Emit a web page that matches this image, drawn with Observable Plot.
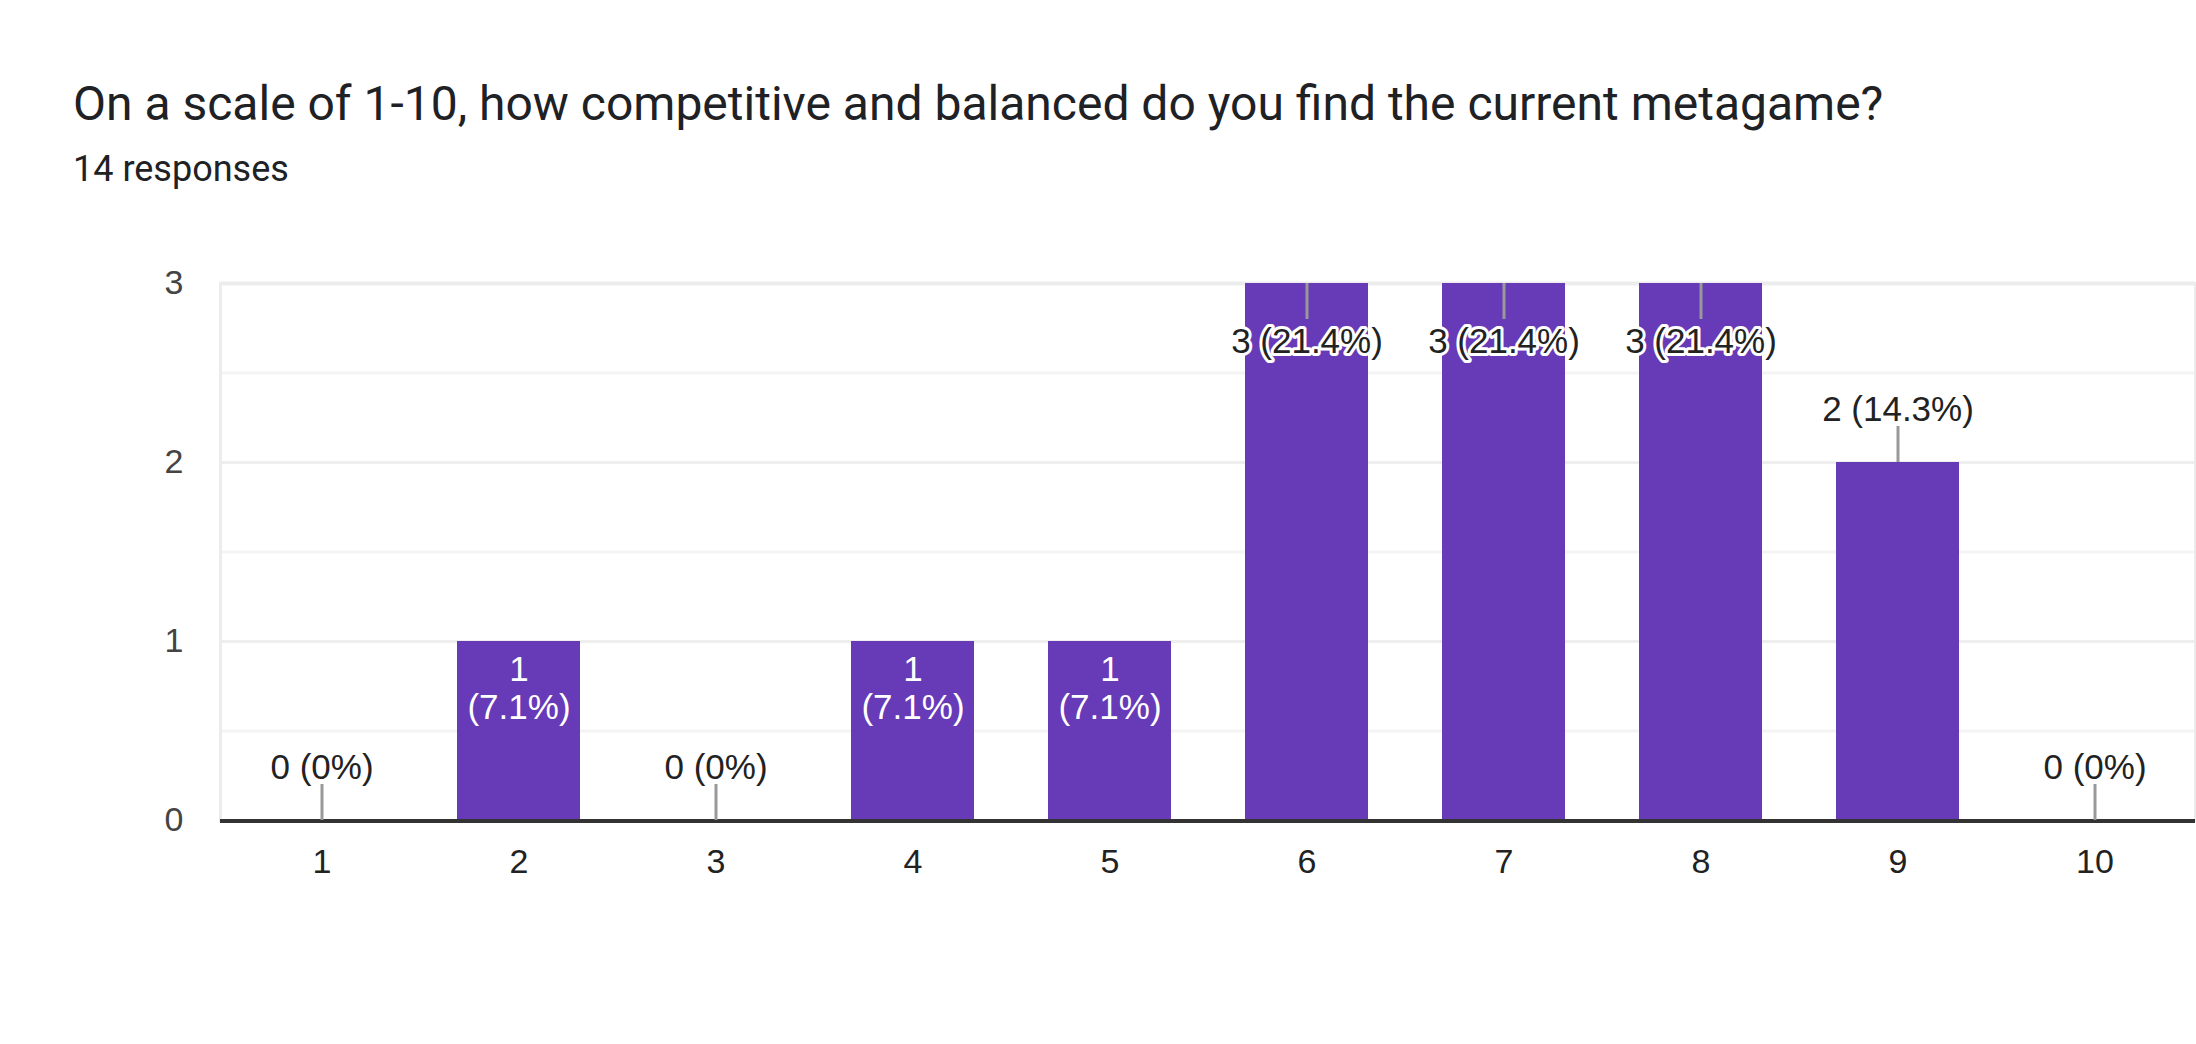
<!DOCTYPE html>
<html>
<head>
<meta charset="utf-8">
<script src="https://cdn.jsdelivr.net/npm/d3@7"></script>
<script src="https://cdn.jsdelivr.net/npm/@observablehq/plot@0.6"></script>
<style>
  html, body { margin: 0; padding: 0; background: #fff; }
  #header { position: relative; height: 220px; width: 2196px; }
  #title { position: absolute; left: 73px; top: 80px; font-family: Roboto, sans-serif; font-size: 48px; line-height: 1; color: #202124; white-space: nowrap; }
  #subtitle { position: absolute; left: 73px; top: 151px; font-family: Roboto, sans-serif; font-size: 36px; line-height: 1; color: #202124; white-space: nowrap; }
  #chart svg { display: block; }
</style>
</head>
<body>
<div id="header">
  <div id="title">On a scale of 1-10, how competitive and balanced do you find the current metagame?</div>
  <div id="subtitle">14 responses</div>
</div>
<div id="chart"></div>
<script>
const ratings = ["1", "2", "3", "4", "5", "6", "7", "8", "9", "10"];
const counts = [0, 1, 0, 1, 1, 3, 3, 3, 2, 0];
const percents = ["0%", "7.1%", "0%", "7.1%", "7.1%", "21.4%", "21.4%", "21.4%", "14.3%", "0%"];
const yTicks = [0, 1, 2, 3];
const minorGrid = [0.5, 1.5, 2.5];
const majorGrid = [1, 2];

const data = ratings.map((r, i) => ({rating: r, count: counts[i], pct: percents[i]}));
const maxCount = d3.max(counts);

const W = 2196, H = 824, mT = 63, mB = 224, mL = 220, mR = 1;
const pxPerUnit = (H - mT - mB) / maxCount;
const leader = 36 / pxPerUnit;

const inside = data.filter(d => d.count === 1);
const clamped = data.filter(d => d.count === maxCount);
const above = data.filter(d => d.count !== 1 && d.count !== maxCount);

const font = "'Liberation Sans', Arial, Helvetica, sans-serif";

const chart = Plot.plot({
  width: W,
  height: H,
  marginTop: mT,
  marginBottom: mB,
  marginLeft: mL,
  marginRight: mR,
  style: {fontFamily: font, background: "#fff", overflow: "visible"},
  x: {domain: ratings, paddingInner: 0.377, paddingOuter: 0.1885, label: null},
  y: {domain: [0, maxCount], label: null},
  marks: [
    Plot.ruleY(minorGrid, {stroke: "#f4f4f4", strokeWidth: 3}),
    Plot.ruleY(majorGrid, {stroke: "#eeeeee", strokeWidth: 3}),
    Plot.frame({stroke: "#ececec", strokeWidth: 3}),
    Plot.ruleY([maxCount], {stroke: "#ececec", strokeWidth: 4}),
    Plot.barY(data, {x: "rating", y: "count", fill: "#673ab7"}),
    Plot.ruleY([0], {stroke: "#333333", strokeWidth: 4, dy: 0.5}),
    Plot.ruleX(above, {x: "rating", y1: "count", y2: d => d.count + leader, stroke: "#999999", strokeWidth: 3}),
    Plot.ruleX(clamped, {x: "rating", y1: "count", y2: d => d.count - leader, stroke: "#999999", strokeWidth: 3}),
    Plot.text(above, {x: "rating", y: "count", text: d => `${d.count} (${d.pct})`, lineAnchor: "bottom", dy: -42, fontSize: 35, fill: "#222222"}),
    Plot.text(inside, {x: "rating", y: "count", text: d => `${d.count}`, lineAnchor: "bottom", dy: 39, fontSize: 35, fill: "#ffffff"}),
    Plot.text(inside, {x: "rating", y: "count", text: d => `(${d.pct})`, lineAnchor: "bottom", dy: 77, fontSize: 35, fill: "#ffffff"}),
    Plot.text(clamped, {x: "rating", y: "count", text: d => `${d.count} (${d.pct})`, lineAnchor: "bottom", dy: 69, fontSize: 35, fill: "#222222", stroke: "#ffffff", strokeWidth: 6}),
    Plot.axisY({ticks: yTicks, tickFormat: d3.format("d"), tickSize: 0, tickPadding: 37, fontSize: 34, fill: "#444444", label: null}),
    Plot.axisX({tickSize: 0, tickPadding: 28, fontSize: 34, fill: "#222222", label: null})
  ]
});
document.getElementById("chart").appendChild(chart);
</script>
</body>
</html>
